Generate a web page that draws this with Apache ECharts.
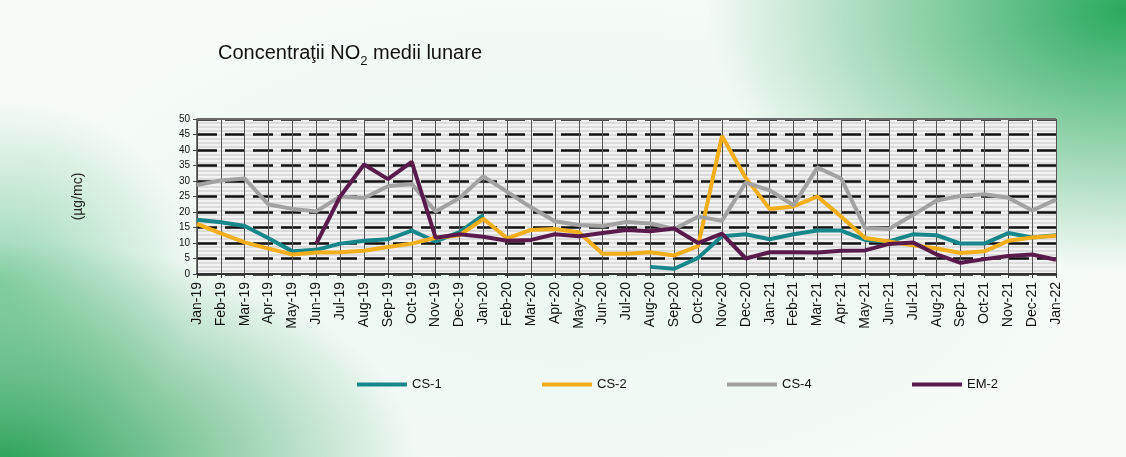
<!DOCTYPE html>
<html>
<head>
<meta charset="utf-8">
<script src="https://cdn.jsdelivr.net/npm/echarts@6/dist/echarts.min.js"></script>
<style>
html,body{margin:0;padding:0;}
body{
  width:1126px;height:457px;overflow:hidden;
  background:
    radial-gradient(ellipse 420px 260px at 1126px 10px, rgba(30,165,85,0.95), rgba(30,165,85,0) 100%),
    radial-gradient(ellipse 420px 230px at 0px 470px, rgba(25,155,75,0.95), rgba(25,155,75,0) 100%),
    radial-gradient(ellipse 200px 180px at 0px 280px, rgba(70,185,120,0.55), rgba(70,185,120,0) 100%),
    radial-gradient(ellipse 600px 300px at 560px 250px, rgba(225,245,235,0.6), rgba(225,245,235,0) 100%),
    #f7fbf8;
}
#chart{width:1126px;height:457px;}
</style>
</head>
<body>
<div id="chart"></div>
<script>
const categories = ['Jan-19','Feb-19','Mar-19','Apr-19','May-19','Jun-19','Jul-19','Aug-19','Sep-19','Oct-19','Nov-19','Dec-19',
  'Jan-20','Feb-20','Mar-20','Apr-20','May-20','Jun-20','Jul-20','Aug-20','Sep-20','Oct-20','Nov-20','Dec-20',
  'Jan-21','Feb-21','Mar-21','Apr-21','May-21','Jun-21','Jul-21','Aug-21','Sep-21','Oct-21','Nov-21','Dec-21','Jan-22'];

const cs1 = [17.5,16.7,15.5,11.5,7.3,7.8,9.8,10.7,11.2,14,10.5,13.5,
  19,null,null,null,null,null,null,2.3,1.7,5.2,12.2,12.8,
  11.2,12.8,14,14,11,10.5,12.8,12.5,9.8,9.8,13.2,11.8,12.5];
const cs2 = [16.2,13.1,10.2,8.2,6.3,6.9,7,7.5,8.7,9.8,11.7,12.5,
  17.8,11.5,14.2,14.5,13.5,6.5,6.5,7,6,9,44.5,31,
  21,21.8,25,18.5,11.6,10.5,9.3,8.2,6.8,7.3,10.7,11.8,12.3];
const cs4 = [28.7,30.2,30.8,22.4,21,20.2,25,24.5,28.3,29,20.2,24.5,
  31.5,26.5,21.5,17,15.8,15.5,16.8,16.3,14.5,18.5,17.2,29.5,
  27,22.2,34.3,30.8,14.8,14.5,19,23.7,25.2,25.7,24.6,20.5,24];
const em2 = [null,null,null,null,null,9.8,25,35.3,30.6,36.2,11.7,12.8,
  12,10.7,11,12.8,12.2,13.2,14.2,13.8,14.7,10,13,5,
  7,7,6.9,7.5,7.6,9.7,10.2,6.3,3.6,4.8,5.8,6.3,4.6];

const seriesNames = ['CS-1','CS-2','CS-4','EM-2'];
const seriesColors = ['#17878c','#f3ae1b','#a2a2a2','#5a1a4c'];
const seriesData = [cs1, cs2, cs4, em2];

// striped plot background
const pc = document.createElement('canvas');
pc.width = 8; pc.height = 4;
const pctx = pc.getContext('2d');
pctx.fillStyle = '#f3f3f3'; pctx.fillRect(0,0,8,4);
pctx.fillStyle = '#dcdcdc'; pctx.fillRect(0,2,8,2);

const chart = echarts.init(document.getElementById('chart'), null, {renderer:'canvas'});
const font = 'Arial, "Liberation Sans", sans-serif';

const series = seriesNames.map((n,i)=>({
  name:n, type:'line', data:seriesData[i], color:seriesColors[i],
  symbol:'none', lineStyle:{width:4, color:seriesColors[i]}, z: 3,
  connectNulls:false
}));
series[0].markLine = {
  silent:true, symbol:'none', label:{show:false},
  lineStyle:{color:'#6a6a6a', type:'solid', width:2},
  data:[{yAxis:50}]
};

const legendLefts = [352, 537, 722, 907];
const legends = seriesNames.map((n,i)=>({
  left:legendLefts[i], top:373, icon:'rect', itemWidth:50, itemHeight:4, itemGap:4,
  textStyle:{fontSize:13, fontFamily:font, color:'#111'},
  data:[n]
}));

chart.setOption({
  animation:false,
  backgroundColor:'transparent',
  title:{
    left:213, top:38,
    text:'{a|Concentraţii NO}{s|2}{a| medii lunare}',
    textStyle:{
      fontWeight:'normal',
      rich:{
        a:{fontSize:20, fontFamily:font, fontWeight:'normal', color:'#111', verticalAlign:'top', lineHeight:24},
        s:{fontSize:13, fontFamily:font, fontWeight:'normal', color:'#111', verticalAlign:'top', padding:[12,0,0,0], lineHeight:24}
      }
    }
  },
  legend:legends,
  grid:{left:197, right:70, top:119, bottom:183, show:true, backgroundColor:{image:pc, repeat:'repeat'}, borderWidth:0},
  xAxis:{
    type:'category', data:categories, boundaryGap:false,
    axisLine:{lineStyle:{color:'#333', width:2}},
    axisTick:{show:true, length:4, lineStyle:{color:'#333'}},
    axisLabel:{rotate:90, fontSize:14, fontFamily:font, color:'#111', margin:8, interval:0},
    splitLine:{show:true, lineStyle:{color:'#555', width:1}}
  },
  yAxis:{
    type:'value', min:0, max:50, interval:5,
    name:'(µg/mc)', nameLocation:'middle', nameGap:112, nameRotate:90,
    nameTextStyle:{fontSize:14, fontFamily:font, color:'#222'},
    axisLine:{show:true, lineStyle:{color:'#444', width:1.5}},
    axisTick:{show:true, length:4, lineStyle:{color:'#444'}},
    axisLabel:{fontSize:10, fontFamily:font, color:'#111', margin:7},
    splitLine:{show:true, lineStyle:{color:'#111', width:2.5, type:[20,8]}}
  },
  series:series
});
</script>
</body>
</html>
